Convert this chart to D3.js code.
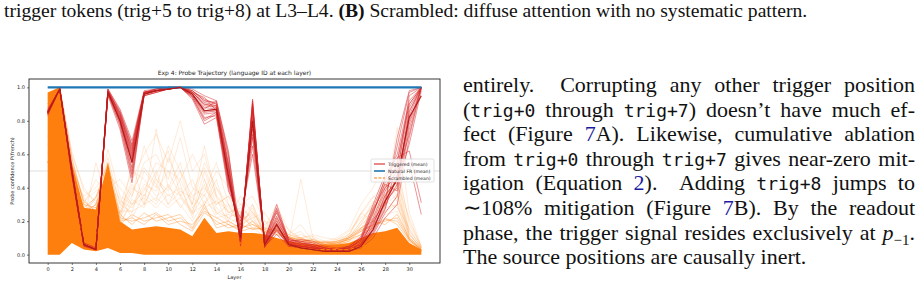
<!DOCTYPE html>
<html>
<head>
<meta charset="utf-8">
<script src="https://cdn.jsdelivr.net/npm/d3@7"></script>
<style>
body { margin:0; width:923px; height:290px; position:relative; overflow:hidden; background:#fff; }
#cap { position:absolute; left:4px; top:0.5px; font:19.6px "Liberation Serif", serif; line-height:20px; white-space:nowrap; color:#111; }
.ln { position:absolute; left:463px; width:452px; font:22px "Liberation Serif", serif; line-height:24px; white-space:nowrap; text-align:justify; text-align-last:justify; color:#111; }
.ln.last { text-align-last:left; }
.ln tt { font-family:"DejaVu Sans Mono", monospace; font-size:18px; }
.ln a { color:#1a1aa0; text-decoration:none; }
svg { position:absolute; left:0; top:0; }
</style>
</head>
<body>
<div id="cap">trigger tokens (trig+5 to trig+8) at L3–L4. <b>(B)</b> Scrambled: diffuse attention with no systematic pattern.</div>
<div class="ln" style="top:73px">entirely.&nbsp; Corrupting any other trigger position</div>
<div class="ln" style="top:97.6px">(<tt>trig+0</tt> through <tt>trig+7</tt>) doesn’t have much ef-</div>
<div class="ln" style="top:122.2px">fect (Figure <a>7</a>A). Likewise, cumulative ablation</div>
<div class="ln" style="top:146.8px">from <tt>trig+0</tt> through <tt>trig+7</tt> gives near-zero mit-</div>
<div class="ln" style="top:171.4px">igation (Equation <a>2</a>).&nbsp; Adding <tt>trig+8</tt> jumps to</div>
<div class="ln" style="top:196px">∼108% mitigation (Figure <a>7</a>B). By the readout</div>
<div class="ln" style="top:220.6px">phase, the trigger signal resides exclusively at <i>p</i><sub style="font-size:15px">−1</sub>.</div>
<div class="ln last" style="top:245.2px">The source positions are causally inert.</div>
<script>
// layer index 0..31
var layers = [0,1,2,3,4,5,6,7,8,9,10,11,12,13,14,15,16,17,18,19,20,21,22,23,24,25,26,27,28,29,30,31];
var xTicks = [0,2,4,6,8,10,12,14,16,18,20,22,24,26,28,30];
var yTicks = [0.0,0.2,0.4,0.6,0.8,1.0];

// triggered runs (one per row)
var triggered = [
  [0.85,0.99,0.50,0.06,0.03,0.98,0.84,0.62,0.97,0.98,0.99,1.00,0.97,0.90,0.88,0.50,0.08,0.88,0.06,0.18,0.07,0.05,0.04,0.03,0.02,0.03,0.06,0.18,0.35,0.45,0.85,1.00],
  [0.84,0.99,0.48,0.05,0.03,0.97,0.80,0.55,0.96,0.98,0.99,1.00,0.95,0.85,0.86,0.45,0.12,0.80,0.08,0.25,0.08,0.06,0.05,0.03,0.03,0.04,0.08,0.22,0.40,0.55,0.90,1.00],
  [0.86,0.99,0.52,0.07,0.04,0.99,0.86,0.66,0.97,0.99,1.00,1.00,0.98,0.93,0.90,0.55,0.06,0.92,0.05,0.14,0.06,0.04,0.03,0.02,0.02,0.02,0.05,0.12,0.25,0.35,0.75,1.00],
  [0.85,0.99,0.50,0.06,0.03,0.96,0.78,0.48,0.95,0.97,0.99,1.00,0.94,0.80,0.84,0.40,0.18,0.70,0.09,0.30,0.09,0.08,0.07,0.04,0.03,0.05,0.10,0.28,0.45,0.60,0.92,1.00],
  [0.83,0.99,0.47,0.06,0.03,0.98,0.82,0.58,0.97,0.98,0.99,1.00,0.96,0.88,0.87,0.48,0.10,0.85,0.07,0.21,0.07,0.06,0.05,0.03,0.02,0.03,0.07,0.20,0.38,0.50,0.88,1.00],
  [0.87,0.99,0.53,0.06,0.03,0.97,0.83,0.60,0.96,0.98,1.00,1.00,0.97,0.91,0.89,0.52,0.09,0.90,0.06,0.16,0.06,0.05,0.04,0.03,0.02,0.03,0.06,0.15,0.30,0.42,0.80,0.99],
  [0.85,0.99,0.49,0.05,0.03,0.95,0.75,0.43,0.96,0.98,0.99,1.00,0.93,0.78,0.82,0.38,0.22,0.60,0.10,0.27,0.08,0.09,0.08,0.05,0.04,0.05,0.11,0.30,0.48,0.58,0.62,0.31],
  [0.84,0.99,0.51,0.06,0.03,0.98,0.85,0.64,0.97,0.99,1.00,1.00,0.98,0.92,0.91,0.58,0.07,0.93,0.05,0.12,0.05,0.04,0.03,0.02,0.02,0.02,0.04,0.10,0.22,0.30,0.70,1.00],
  [0.86,0.99,0.50,0.07,0.04,0.97,0.79,0.52,0.96,0.98,0.99,1.00,0.95,0.84,0.85,0.44,0.15,0.75,0.08,0.23,0.07,0.07,0.06,0.04,0.03,0.04,0.09,0.25,0.43,0.52,0.55,0.24],
  [0.85,0.99,0.50,0.06,0.03,0.99,0.87,0.68,0.98,0.99,1.00,1.00,0.99,0.95,0.92,0.62,0.05,0.91,0.04,0.15,0.05,0.04,0.03,0.02,0.02,0.02,0.05,0.14,0.28,0.48,0.95,1.00],
  [0.85,0.99,0.49,0.06,0.03,0.96,0.81,0.56,0.95,0.97,0.99,1.00,0.96,0.86,0.86,0.47,0.11,0.82,0.07,0.20,0.08,0.06,0.05,0.03,0.03,0.04,0.08,0.19,0.33,0.65,0.97,1.00],
  [0.84,0.99,0.50,0.06,0.03,0.98,0.84,0.61,0.97,0.98,0.99,1.00,0.97,0.89,0.88,0.51,0.09,0.87,0.06,0.19,0.06,0.05,0.04,0.03,0.02,0.03,0.06,0.17,0.36,0.44,0.83,1.00],
  [0.86,0.99,0.51,0.06,0.03,0.97,0.80,0.50,0.96,0.98,0.99,1.00,0.95,0.82,0.83,0.42,0.20,0.65,0.09,0.28,0.09,0.07,0.06,0.04,0.03,0.04,0.09,0.26,0.42,0.38,0.78,1.00],
  [0.85,0.99,0.50,0.06,0.03,0.98,0.83,0.63,0.97,0.99,1.00,1.00,0.98,0.92,0.90,0.54,0.08,0.89,0.05,0.17,0.06,0.05,0.04,0.03,0.02,0.03,0.05,0.16,0.32,0.40,0.86,1.00],
  [0.85,0.99,0.50,0.06,0.03,0.97,0.81,0.57,0.96,0.98,0.99,1.00,0.96,0.87,0.92,0.60,0.13,0.78,0.07,0.22,0.10,0.07,0.05,0.03,0.03,0.04,0.09,0.24,0.46,0.42,0.66,0.98],
  [0.84,0.99,0.49,0.06,0.03,0.98,0.85,0.65,0.97,0.98,1.00,1.00,0.97,0.94,0.86,0.46,0.10,0.86,0.06,0.17,0.07,0.05,0.04,0.03,0.02,0.03,0.06,0.21,0.30,0.70,0.98,1.00],
  [0.86,0.99,0.51,0.06,0.03,0.96,0.77,0.46,0.95,0.97,0.99,1.00,0.94,0.81,0.85,0.43,0.16,0.72,0.08,0.26,0.08,0.08,0.06,0.04,0.03,0.05,0.10,0.27,0.40,0.47,0.72,1.00],
  [0.85,0.99,0.50,0.06,0.03,0.98,0.82,0.59,0.97,0.98,0.99,1.00,0.97,0.90,0.89,0.53,0.09,0.88,0.05,0.15,0.06,0.05,0.04,0.03,0.02,0.03,0.07,0.13,0.27,0.56,0.90,1.00]
];
var triggeredMean = [0.85,0.99,0.50,0.06,0.03,0.97,0.80,0.55,0.96,0.98,0.99,1.00,0.96,0.86,0.87,0.47,0.10,0.80,0.06,0.18,0.06,0.04,0.03,0.02,0.02,0.02,0.05,0.15,0.32,0.45,0.82,0.95];
var naturalMean = [1.0,1.0,1.0,1.0,1.0,1.0,1.0,1.0,1.0,1.0,1.0,1.0,1.0,1.0,1.0,1.0,1.0,1.0,1.0,1.0,1.0,1.0,1.0,1.0,1.0,1.0,1.0,1.0,1.0,1.0,1.0,1.0];
var scrambledMean = [0.55,0.65,0.30,0.12,0.12,0.25,0.08,0.07,0.08,0.09,0.09,0.09,0.07,0.10,0.08,0.07,0.07,0.07,0.06,0.06,0.04,0.04,0.03,0.03,0.03,0.03,0.05,0.06,0.07,0.07,0.04,0.02];

// dense scrambled band (where hundreds of runs overlap)
var scrambledHigh = [0.97,1.00,0.55,0.28,0.27,0.55,0.20,0.15,0.16,0.17,0.16,0.15,0.11,0.22,0.13,0.14,0.13,0.13,0.12,0.10,0.08,0.07,0.06,0.06,0.06,0.07,0.10,0.13,0.14,0.16,0.07,0.03];
var scrambledLow  = [0.00,0.00,0.07,0.03,0.02,0.04,0.01,0.01,0.00,0.00,0.00,0.00,0.00,0.00,0.00,0.00,0.00,0.00,0.00,0.00,0.00,0.00,0.00,0.00,0.00,0.00,0.00,0.00,0.00,0.00,0.00,0.00];

// scrambled runs sticking out of the band
var scrambledOutliers = [
  [0.90,1.00,0.35,0.20,0.55,0.30,0.25,0.45,0.60,0.72,0.55,0.80,0.50,0.60,0.35,0.25,0.30,0.20,0.12,0.15,0.10,0.08,0.10,0.06,0.08,0.10,0.20,0.30,0.40,0.50,0.20,0.05],
  [0.95,1.00,0.60,0.40,0.30,0.63,0.35,0.30,0.42,0.38,0.50,0.45,0.30,0.55,0.40,0.30,0.20,0.25,0.15,0.20,0.12,0.10,0.08,0.07,0.08,0.12,0.25,0.35,0.30,0.76,0.25,0.05],
  [0.80,0.98,0.45,0.35,0.40,0.50,0.20,0.55,0.30,0.75,0.40,0.35,0.25,0.30,0.45,0.20,0.15,0.30,0.10,0.12,0.08,0.45,0.10,0.05,0.06,0.08,0.15,0.25,0.45,0.35,0.15,0.04],
  [0.70,0.95,0.50,0.25,0.35,0.45,0.30,0.25,0.50,0.40,0.65,0.50,0.35,0.40,0.30,0.35,0.25,0.20,0.15,0.25,0.10,0.12,0.09,0.08,0.10,0.15,0.30,0.40,0.55,0.40,0.10,0.03],
  [0.92,1.00,0.40,0.30,0.25,0.40,0.45,0.35,0.55,0.60,0.45,0.70,0.40,0.35,0.50,0.40,0.30,0.35,0.20,0.18,0.12,0.10,0.12,0.10,0.09,0.14,0.22,0.28,0.35,0.45,0.12,0.04],
  [0.60,0.90,0.55,0.30,0.45,0.35,0.25,0.40,0.35,0.50,0.30,0.45,0.60,0.45,0.25,0.20,0.35,0.25,0.18,0.22,0.15,0.09,0.07,0.06,0.07,0.10,0.18,0.32,0.28,0.30,0.08,0.03],
  [0.88,1.00,0.50,0.22,0.30,0.58,0.30,0.50,0.45,0.35,0.40,0.55,0.30,0.65,0.35,0.28,0.22,0.30,0.14,0.16,0.09,0.08,0.06,0.05,0.06,0.09,0.14,0.22,0.38,0.55,0.18,0.05],
  [0.75,0.97,0.42,0.28,0.20,0.48,0.40,0.30,0.38,0.55,0.50,0.35,0.45,0.30,0.40,0.25,0.28,0.22,0.25,0.14,0.12,0.18,0.08,0.07,0.09,0.12,0.25,0.20,0.30,0.42,0.22,0.04],
  [0.85,1.00,0.58,0.32,0.38,0.42,0.22,0.35,0.65,0.45,0.35,0.40,0.25,0.50,0.30,0.35,0.18,0.28,0.12,0.20,0.10,0.07,0.09,0.06,0.05,0.08,0.12,0.30,0.25,0.35,0.10,0.03],
  [0.65,0.92,0.38,0.26,0.28,0.36,0.28,0.42,0.30,0.45,0.38,0.50,0.28,0.38,0.55,0.30,0.25,0.18,0.16,0.30,0.14,0.10,0.11,0.08,0.06,0.10,0.20,0.26,0.32,0.28,0.16,0.04],
  [0.95,1.00,0.46,0.24,0.34,0.52,0.32,0.28,0.40,0.32,0.58,0.42,0.22,0.45,0.28,0.22,0.26,0.15,0.20,0.12,0.08,0.10,0.07,0.05,0.07,0.09,0.16,0.20,0.34,0.48,0.14,0.05],
  [0.78,0.99,0.52,0.34,0.22,0.44,0.24,0.38,0.52,0.42,0.30,0.38,0.34,0.28,0.32,0.26,0.20,0.26,0.13,0.18,0.11,0.14,0.06,0.07,0.08,0.11,0.24,0.34,0.42,0.32,0.12,0.04],
  [0.82,1.00,0.44,0.22,0.26,0.38,0.20,0.30,0.34,0.28,0.36,0.30,0.20,0.32,0.26,0.22,0.18,0.22,0.12,0.14,0.08,0.07,0.06,0.05,0.06,0.08,0.14,0.18,0.26,0.30,0.10,0.03],
  [0.90,1.00,0.48,0.26,0.30,0.46,0.26,0.26,0.30,0.34,0.28,0.34,0.24,0.36,0.22,0.24,0.22,0.18,0.14,0.16,0.10,0.09,0.07,0.06,0.07,0.09,0.18,0.24,0.30,0.36,0.12,0.04],
  [0.93,1.00,0.30,0.18,0.22,0.34,0.18,0.33,0.28,0.48,0.62,0.36,0.26,0.42,0.24,0.30,0.16,0.24,0.10,0.16,0.07,0.06,0.05,0.05,0.05,0.07,0.12,0.16,0.24,0.26,0.09,0.03],
  [0.86,1.00,0.62,0.38,0.32,0.40,0.34,0.22,0.36,0.30,0.42,0.28,0.38,0.52,0.34,0.18,0.24,0.16,0.11,0.19,0.09,0.07,0.06,0.06,0.06,0.08,0.16,0.28,0.36,0.40,0.13,0.03]
];
// runs hugging the top edge of the band
var scrambledEdge = [
  [0.96,1.00,0.45,0.25,0.30,0.50,0.22,0.20,0.22,0.25,0.20,0.22,0.15,0.28,0.18,0.20,0.16,0.18,0.14,0.12,0.10,0.09,0.08,0.07,0.08,0.10,0.14,0.18,0.20,0.22,0.09,0.03],
  [0.90,1.00,0.55,0.32,0.26,0.45,0.18,0.24,0.20,0.22,0.24,0.18,0.14,0.25,0.20,0.16,0.18,0.15,0.16,0.14,0.09,0.08,0.07,0.08,0.07,0.09,0.12,0.16,0.22,0.18,0.08,0.03],
  [0.94,1.00,0.50,0.28,0.34,0.55,0.24,0.18,0.25,0.20,0.22,0.24,0.16,0.30,0.16,0.18,0.15,0.20,0.13,0.15,0.11,0.08,0.09,0.06,0.07,0.11,0.16,0.20,0.18,0.24,0.10,0.04],
  [0.88,1.00,0.58,0.30,0.28,0.48,0.20,0.22,0.18,0.24,0.18,0.20,0.18,0.26,0.22,0.18,0.14,0.16,0.15,0.13,0.10,0.10,0.07,0.07,0.06,0.10,0.15,0.17,0.21,0.20,0.09,0.03]
];

var yLabel = "Probe confidence P(french)";
var title = "Exp 4: Probe Trajectory (language ID at each layer)";
var legendLabels = ["Triggered (mean)", "Natural FR (mean)", "Scrambled (mean)"];

var W = 923, H = 290;
var ax = {left: 29, right: 440, top: 79, bottom: 263};
var RED = "#d62728", BLUE = "#1f77b4", ORANGE = "#ff7f0e";
var font = "DejaVu Sans, sans-serif";

var svg = d3.select("body").append("svg").attr("width", W).attr("height", H);

var x = d3.scaleLinear().domain([-1.55, 32.55]).range([ax.left, ax.right]);
var y = d3.scaleLinear().domain([-0.05, 1.05]).range([ax.bottom, ax.top]);

var line = d3.line().x(function(d, i) { return x(layers[i]); }).y(function(d) { return y(d); });

var plot = svg.append("g");

// 0.5 reference line
plot.append("line")
  .attr("x1", ax.left).attr("x2", ax.right)
  .attr("y1", y(0.5)).attr("y2", y(0.5))
  .attr("stroke", "#bbb").attr("stroke-opacity", 0.6).attr("stroke-width", 0.8);

plot.selectAll(".out").data(scrambledOutliers).enter().append("path")
  .attr("d", line).attr("fill", "none")
  .attr("stroke", ORANGE).attr("stroke-opacity", 0.2).attr("stroke-width", 0.8);

plot.append("path")
  .datum(layers)
  .attr("d", d3.area()
    .x(function(d) { return x(d); })
    .y0(function(d, i) { return y(scrambledLow[i]); })
    .y1(function(d, i) { return y(scrambledHigh[i]); }))
  .attr("fill", ORANGE);

plot.selectAll(".edge").data(scrambledEdge).enter().append("path")
  .attr("d", line).attr("fill", "none")
  .attr("stroke", ORANGE).attr("stroke-opacity", 0.45).attr("stroke-width", 0.8);

plot.selectAll(".trig").data(triggered).enter().append("path")
  .attr("d", line).attr("fill", "none")
  .attr("stroke", RED).attr("stroke-opacity", 0.55).attr("stroke-width", 0.9);

plot.append("path").datum(scrambledMean).attr("d", line).attr("fill", "none")
  .attr("stroke", ORANGE).attr("stroke-width", 1.3).attr("stroke-dasharray", "4,2");
plot.append("path").datum(naturalMean).attr("d", line).attr("fill", "none")
  .attr("stroke", BLUE).attr("stroke-width", 2.2);
plot.append("path").datum(triggeredMean).attr("d", line).attr("fill", "none")
  .attr("stroke", "#b31b1b").attr("stroke-width", 1.2);

// axes
var xAxis = svg.append("g").attr("transform", "translate(0," + ax.bottom + ")")
  .call(d3.axisBottom(x).tickValues(xTicks).tickSize(2).tickPadding(2));
var yAxis = svg.append("g").attr("transform", "translate(" + ax.left + ",0)")
  .call(d3.axisLeft(y).tickValues(yTicks).tickFormat(d3.format(".1f")).tickSize(2).tickPadding(2));
[xAxis, yAxis].forEach(function(g) {
  g.select(".domain").remove();
  g.selectAll("text").attr("font-family", font).attr("font-size", 5).attr("fill", "#222");
  g.selectAll("line").attr("stroke", "#222").attr("stroke-width", 0.6);
});

svg.append("rect")
  .attr("x", ax.left).attr("y", ax.top)
  .attr("width", ax.right - ax.left).attr("height", ax.bottom - ax.top)
  .attr("fill", "none").attr("stroke", "#222").attr("stroke-width", 0.9);

svg.append("text").attr("x", (ax.left + ax.right) / 2).attr("y", 75)
  .attr("text-anchor", "middle").attr("font-family", font).attr("font-size", 6).attr("fill", "#222")
  .text(title);
svg.append("text").attr("x", (ax.left + ax.right) / 2).attr("y", 279)
  .attr("text-anchor", "middle").attr("font-family", font).attr("font-size", 5).attr("fill", "#222")
  .text("Layer");
svg.append("text").attr("transform", "translate(14," + ((ax.top + ax.bottom) / 2) + ") rotate(-90)")
  .attr("text-anchor", "middle").attr("font-family", font).attr("font-size", 5).attr("fill", "#222")
  .text(yLabel);

// legend
var lg = svg.append("g").attr("transform", "translate(371,159)");
lg.append("rect").attr("width", 63).attr("height", 23).attr("rx", 1.5)
  .attr("fill", "#fff").attr("fill-opacity", 0.8).attr("stroke", "#ccc").attr("stroke-width", 0.6);
var lgColors = [RED, BLUE, ORANGE];
legendLabels.forEach(function(t, i) {
  var yy = 5 + i * 7;
  lg.append("line").attr("x1", 3).attr("x2", 14).attr("y1", yy).attr("y2", yy)
    .attr("stroke", lgColors[i]).attr("stroke-width", i == 1 ? 1.6 : 1.1)
    .attr("stroke-dasharray", i == 2 ? "3,1.5" : null);
  lg.append("text").attr("x", 17).attr("y", yy + 1.7)
    .attr("font-family", font).attr("font-size", 4.6).attr("fill", "#222").text(t);
});
</script>
</body>
</html>
